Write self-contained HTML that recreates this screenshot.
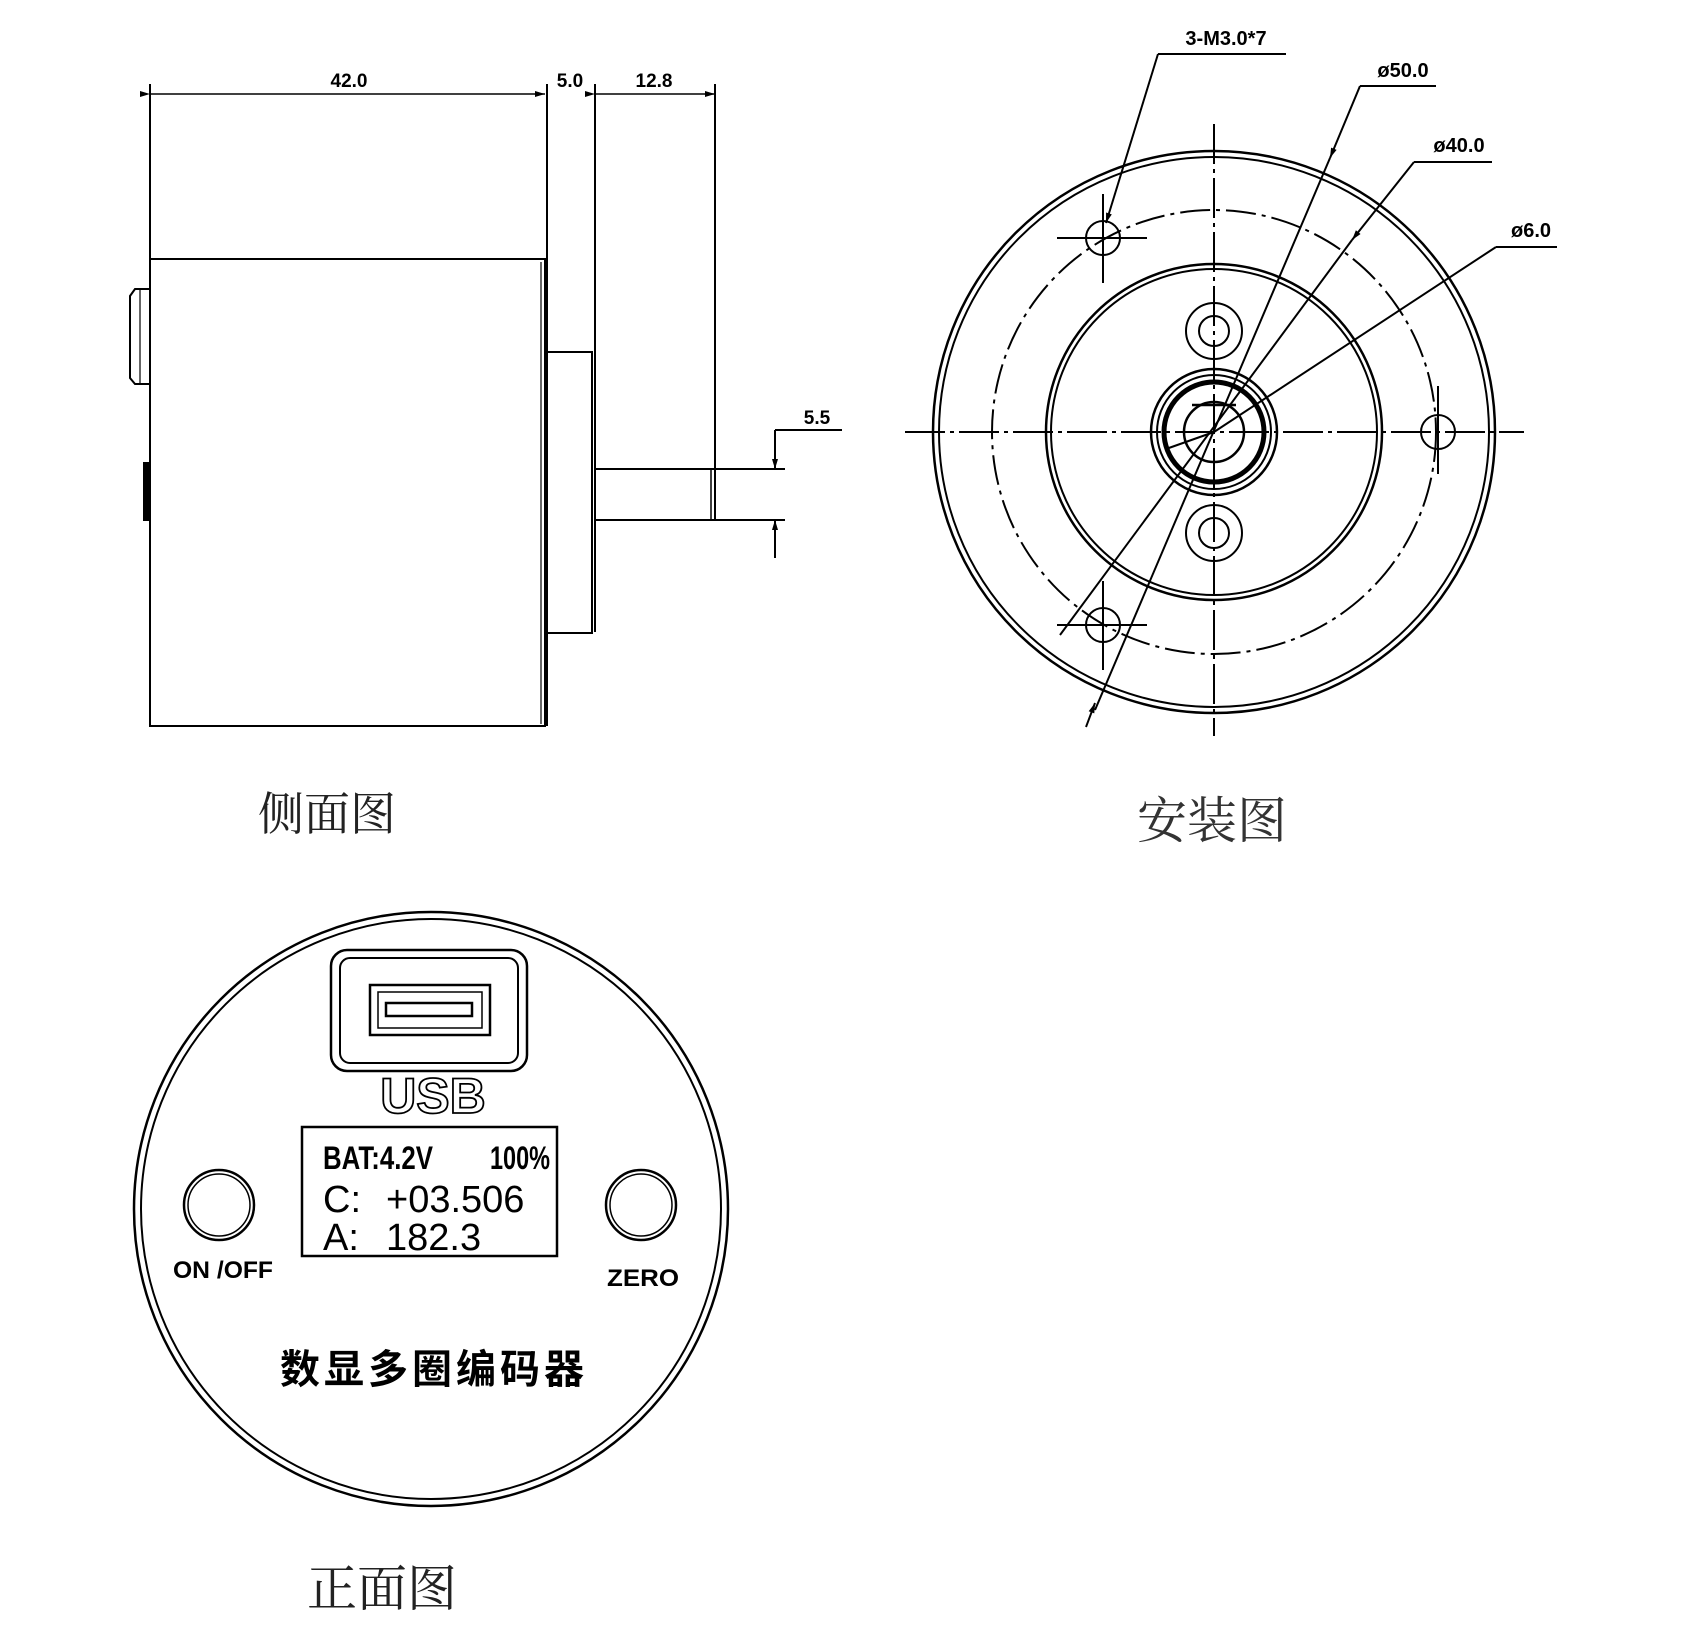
<!DOCTYPE html>
<html><head><meta charset="utf-8"><style>
html,body{margin:0;padding:0;background:#fff}
svg{display:block}
</style></head><body>
<svg width="1700" height="1628" viewBox="0 0 1700 1628" xmlns="http://www.w3.org/2000/svg" font-family="Liberation Sans, sans-serif">
<defs>
<marker id="ar" viewBox="0 0 10 10" refX="10" refY="5" markerWidth="14" markerHeight="10" markerUnits="userSpaceOnUse" orient="auto"><path d="M0,2 L10,5 L0,8 z" fill="#000"/></marker>
</defs>
<g stroke="#000" fill="none" stroke-width="2">
<!-- SIDE VIEW -->
<rect x="150" y="259" width="395" height="467"/>
<line x1="541" y1="262" x2="541" y2="724" stroke-width="1.2"/>
<line x1="150" y1="84" x2="150" y2="259"/>
<line x1="547" y1="84" x2="547" y2="726"/>
<line x1="595" y1="84" x2="595" y2="632"/>
<rect x="547" y="352" width="45" height="281"/>
<line x1="715" y1="84" x2="715" y2="520"/>
<line x1="711" y1="469" x2="711" y2="520" stroke-width="1.5"/>
<line x1="595" y1="469" x2="785" y2="469"/>
<line x1="595" y1="520" x2="785" y2="520"/>
<line x1="775" y1="430" x2="842" y2="430"/>
<line x1="775" y1="430" x2="775" y2="469" marker-end="url(#ar)"/>
<line x1="775" y1="558" x2="775" y2="520" marker-end="url(#ar)"/>
<line x1="150" y1="94" x2="545" y2="94" marker-start="url(#ar)" marker-end="url(#ar)" stroke-width="1.5"/>
<line x1="595" y1="94" x2="715" y2="94" marker-start="url(#ar)" marker-end="url(#ar)" stroke-width="1.5"/>
<path d="M150,289 L135,289 L130,296 L130,378 L135,384 L150,384"/>
<line x1="140" y1="289" x2="140" y2="384" stroke-width="1.2"/>
<rect x="144" y="463" width="6" height="57" fill="#000"/>
</g>
<g font-size="19" text-anchor="middle" fill="#000" font-weight="bold">
<text x="349" y="87">42.0</text>
<text x="570" y="87">5.0</text>
<text x="654" y="87">12.8</text>
<text x="817" y="424">5.5</text>
</g>
<text x="327" y="830" font-size="46" text-anchor="middle" font-family="Liberation Serif, 'Noto Serif CJK SC', serif" fill="#222">侧面图</text>

<!-- INSTALL VIEW -->
<g stroke="#000" fill="none" stroke-width="2">
<circle cx="1214" cy="432" r="281" stroke-width="2.5"/>
<circle cx="1214" cy="432" r="275"/>
<circle cx="1214" cy="432" r="222" stroke-dasharray="30,6,4,6"/>
<circle cx="1214" cy="432" r="168" stroke-width="2.5"/>
<circle cx="1214" cy="432" r="163"/>
<circle cx="1214" cy="432" r="63" stroke-width="2.5"/>
<circle cx="1214" cy="432" r="57" stroke-width="2"/>
<circle cx="1214" cy="432" r="50" stroke-width="5"/>
<circle cx="1214" cy="432" r="30" stroke-width="2.5"/>
<line x1="1192" y1="405" x2="1236" y2="405" stroke-width="2.5"/>
<circle cx="1214" cy="331" r="28"/><circle cx="1214" cy="331" r="15"/>
<circle cx="1214" cy="533" r="28"/><circle cx="1214" cy="533" r="15"/>
<line x1="905" y1="432" x2="1524" y2="432" stroke-dasharray="40,5,4,5"/>
<line x1="1214" y1="124" x2="1214" y2="736" stroke-dasharray="40,5,4,5"/>
<circle cx="1103" cy="238" r="17"/>
<line x1="1057" y1="238" x2="1147" y2="238"/><line x1="1103" y1="194" x2="1103" y2="283"/>
<circle cx="1103" cy="625" r="17"/>
<line x1="1057" y1="625" x2="1147" y2="625"/><line x1="1103" y1="581" x2="1103" y2="670"/>
<circle cx="1438" cy="432" r="17"/>
<line x1="1438" y1="386" x2="1438" y2="474"/>
<!-- leaders -->
<line x1="1158" y1="54" x2="1286" y2="54"/>
<line x1="1158" y1="54" x2="1106" y2="223" marker-end="url(#ar)"/>
<line x1="1360" y1="86" x2="1436" y2="86"/>
<line x1="1360" y1="86" x2="1330" y2="158" marker-end="url(#ar)"/>
<line x1="1330" y1="158" x2="1095" y2="710"/>
<line x1="1086" y1="727" x2="1095" y2="703" marker-end="url(#ar)"/>
<line x1="1414" y1="162" x2="1492" y2="162"/>
<line x1="1414" y1="162" x2="1352" y2="240" marker-end="url(#ar)"/>
<line x1="1352" y1="240" x2="1060" y2="635"/>
<line x1="1496" y1="247" x2="1557" y2="247"/>
<line x1="1496" y1="247" x2="1214" y2="432"/>
<line x1="1214" y1="432" x2="1166" y2="449"/>
</g>
<g font-size="20" text-anchor="middle" fill="#000" font-weight="bold">
<text x="1226" y="45">3-M3.0*7</text>
<text x="1403" y="77">ø50.0</text>
<text x="1459" y="152">ø40.0</text>
<text x="1531" y="237">ø6.0</text>
</g>
<text x="1212" y="838" font-size="50" text-anchor="middle" font-family="Liberation Serif, 'Noto Serif CJK SC', serif" fill="#333">安装图</text>

<!-- FRONT VIEW -->
<g stroke="#000" fill="none" stroke-width="2.5">
<circle cx="431" cy="1209" r="297"/>
<circle cx="431" cy="1209" r="290" stroke-width="2"/>
<rect x="331" y="950" width="196" height="121" rx="16"/>
<rect x="340" y="958" width="178" height="105" rx="10" stroke-width="2"/>
<rect x="370" y="985" width="120" height="50"/>
<rect x="378" y="992" width="104" height="36" stroke-width="1.5"/>
<rect x="386" y="1003" width="86" height="13"/>
<rect x="302" y="1127" width="255" height="129"/>
<circle cx="219" cy="1205" r="35"/><circle cx="219" cy="1205" r="31" stroke-width="1.5"/>
<circle cx="641" cy="1205" r="35"/><circle cx="641" cy="1205" r="31" stroke-width="1.5"/>
</g>
<text x="433" y="1113" font-size="50" text-anchor="middle" fill="#fff" stroke="#000" stroke-width="1.8" font-weight="bold">USB</text>
<g fill="#000" font-weight="bold">
<text x="323" y="1169" font-size="32" textLength="110" lengthAdjust="spacingAndGlyphs">BAT:4.2V</text>
<text x="550" y="1169" font-size="32" text-anchor="end" textLength="60" lengthAdjust="spacingAndGlyphs">100%</text>
<text x="323" y="1212" font-size="38" font-weight="normal">C:</text>
<text x="386" y="1212" font-size="38" font-weight="normal">+03.506</text>
<text x="323" y="1250" font-size="38" font-weight="normal">A:</text>
<text x="386" y="1250" font-size="38" font-weight="normal">182.3</text>
<text x="223" y="1278" font-size="24" text-anchor="middle" textLength="100" lengthAdjust="spacingAndGlyphs">ON /OFF</text>
<text x="643" y="1286" font-size="24" text-anchor="middle" textLength="72" lengthAdjust="spacingAndGlyphs">ZERO</text>
<text x="434" y="1383" font-size="40" text-anchor="middle" font-family="Liberation Sans, 'Noto Sans CJK SC', sans-serif" letter-spacing="4">数显多圈编码器</text>
</g>
<text x="382" y="1606" font-size="50" text-anchor="middle" font-family="Liberation Serif, 'Noto Serif CJK SC', serif" fill="#222">正面图</text>
</svg>
</body></html>
